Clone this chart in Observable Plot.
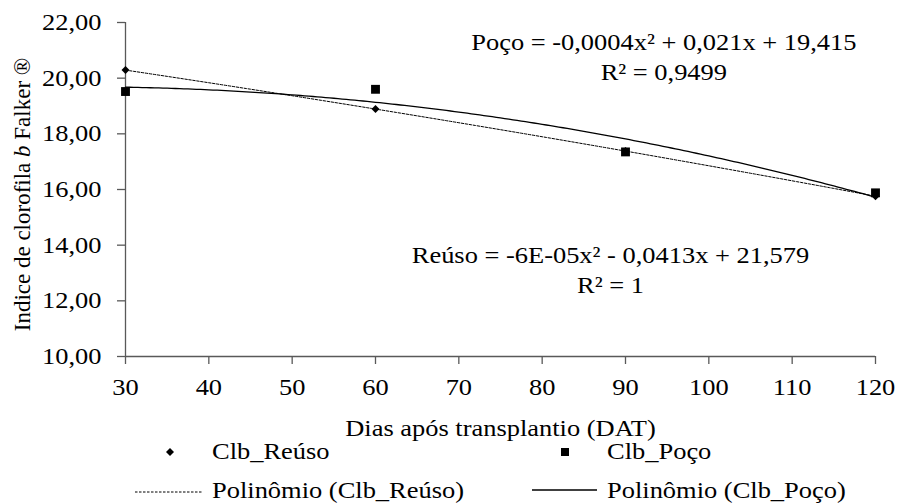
<!DOCTYPE html>
<html><head><meta charset="utf-8">
<script src="https://cdn.jsdelivr.net/npm/d3@7"></script>
<script src="https://cdn.jsdelivr.net/npm/@observablehq/plot@0.6"></script>
<style>
body{margin:0;background:#fff;}
#wrap{position:relative;width:900px;height:504px;font-family:"Liberation Serif","Times New Roman",serif;color:#000;overflow:hidden;}
#wrap svg.plot{position:absolute;left:0;top:0;}
#wrap svg text{font-family:"Liberation Serif","Times New Roman",serif;}
.lg{position:absolute;font-size:23px;line-height:23px;white-space:nowrap;transform:scaleX(1.15);transform-origin:0 0;}
.sym{position:absolute;line-height:0;}
.sym svg{display:block;}
</style></head><body><div id="wrap"></div>
<script>
// ---- data ----
const days = [30, 60, 90, 120];
const reuso = [20.29, 18.89, 17.38, 15.76];
const poco = [19.52, 19.60, 17.35, 15.88];
const xTicks = [30, 40, 50, 60, 70, 80, 90, 100, 110, 120];
const yTicks = [10, 12, 14, 16, 18, 20, 22];
const seriesNames = ["Clb_Reúso", "Clb_Poço"];
const trendNames = ["Polinômio (Clb_Reúso)", "Polinômio (Clb_Poço)"];
const eqTexts = ["Poço = -0,0004x² + 0,021x + 19,415\nR² = 0,9499", "Reúso = -6E-05x² - 0,0413x + 21,579\nR² = 1"];
const eqX = [94.6, 88.2];
const eqY = [21.8, 14.15];
const xLabel = "Dias após transplantio (DAT)";
const yLabel = "Indice de clorofila b Falker ®";

// ---- quadratic least-squares trendline (as Excel's polynomial trendline) ----
function quadFit(xs, ys) {
  const n = xs.length;
  let s = [0,0,0,0,0], t = [0,0,0];
  for (let i = 0; i < n; i++) {
    const x = xs[i], y = ys[i];
    for (let k = 0; k < 5; k++) s[k] += Math.pow(x, k);
    for (let k = 0; k < 3; k++) t[k] += y * Math.pow(x, k);
  }
  const M = [[s[0], s[1], s[2], t[0]], [s[1], s[2], s[3], t[1]], [s[2], s[3], s[4], t[2]]];
  for (let i = 0; i < 3; i++) {
    let p = i;
    for (let r = i + 1; r < 3; r++) if (Math.abs(M[r][i]) > Math.abs(M[p][i])) p = r;
    [M[i], M[p]] = [M[p], M[i]];
    for (let r = 0; r < 3; r++) if (r !== i) {
      const f = M[r][i] / M[i][i];
      for (let c = i; c < 4; c++) M[r][c] -= f * M[i][c];
    }
  }
  const c = M[0][3] / M[0][0], b = M[1][3] / M[1][1], a = M[2][3] / M[2][2];
  return x => a * x * x + b * x + c;
}
const fR = quadFit(days, reuso), fP = quadFit(days, poco);
const xs = d3.range(30, 120.001, 0.5);
const curveR = xs.map(x => ({x, y: fR(x)}));
const curveP = xs.map(x => ({x, y: fP(x)}));
const ptsR = days.map((d, i) => ({x: d, y: reuso[i]}));
const ptsP = days.map((d, i) => ({x: d, y: poco[i]}));
const eqs = eqTexts.map((t, i) => ({t, x: eqX[i], y: eqY[i]}));

const axisColor = "#595959";
const chart = Plot.plot({
  width: 900, height: 440,
  marginLeft: 125, marginRight: 25, marginTop: 22, marginBottom: 84,
  style: {fontFamily: "Liberation Serif, Times New Roman, serif", fontSize: "23px", color: "#000", background: "#fff", overflow: "visible"},
  x: {domain: [30, 120]},
  y: {domain: [10, 22]},
  marks: [
    Plot.ruleY([10], {stroke: axisColor, strokeWidth: 1.3}),
    Plot.ruleX([30], {stroke: axisColor, strokeWidth: 1.3}),
    Plot.axisX({ticks: xTicks, tickSize: 8, tickPadding: 14, stroke: axisColor, strokeWidth: 1.3, fill: "#000",
      label: xLabel, labelArrow: "none", labelAnchor: "center", labelOffset: 79}),
    Plot.axisY({ticks: yTicks, tickSize: 8, tickPadding: 16, stroke: axisColor, strokeWidth: 1.3, fill: "#000",
      tickFormat: d => d.toFixed(2).replace(".", ","), label: yLabel, labelArrow: "none", labelAnchor: "center", labelOffset: 112}),
    Plot.line(curveR, {x: "x", y: "y", stroke: "#000", strokeWidth: 1, strokeDasharray: "2.5,1.5"}),
    Plot.line(curveP, {x: "x", y: "y", stroke: "#000", strokeWidth: 1.3}),
    Plot.dot(ptsR, {x: "x", y: "y", symbol: "diamond2", r: 3.6, fill: "#000", stroke: null}),
    Plot.dot(ptsP, {x: "x", y: "y", symbol: "square", r: 5, fill: "#000", stroke: null}),
    Plot.text(eqs, {x: "x", y: "y", text: "t", textAnchor: "middle", lineAnchor: "top", lineHeight: 1.33, fill: "#000", fontSize: 23})
  ]
});
chart.classList.add("plot");
const wrap = document.getElementById("wrap");
wrap.appendChild(chart);

// post-process texts: clean labels, italic "b", horizontal widening like the reference
d3.select(chart).selectAll("text").each(function() {
  const el = d3.select(this);
  const content = this.textContent;
  let tr = this.getAttribute("transform");
  if (content.includes("Falker")) {
    el.selectAll("*").remove();
    el.text(null);
    el.append("tspan").text("Indice de clorofila ");
    el.append("tspan").attr("font-style", "italic").text("b");
    el.append("tspan").text(" Falker ®");
    if (tr) this.setAttribute("transform", "translate(0,5) " + tr);
    return;
  } else if (content.includes("Dias")) {
    el.text(xLabel);
  }
  if (tr && !tr.includes("rotate")) this.setAttribute("transform", tr + " scale(1.15,1)");
});

// ---- legend below the plot area ----
function addText(txt, left, top) {
  const s = document.createElement("div");
  s.className = "lg"; s.textContent = txt;
  s.style.left = left + "px"; s.style.top = top + "px";
  wrap.appendChild(s);
}
function addSym(html, left, top, w, h) {
  const d = document.createElement("div");
  d.className = "sym";
  d.style.left = left + "px"; d.style.top = top + "px";
  d.innerHTML = `<svg width="${w}" height="${h}">${html}</svg>`;
  wrap.appendChild(d);
}
addSym('<path d="M4,0L8,4L4,8L0,4Z" fill="#000"/>', 166, 448, 8, 8);
addText(seriesNames[0], 212, 440);
addSym('<rect x="0" y="0" width="8" height="8" fill="#000"/>', 561, 448, 8, 8);
addText(seriesNames[1], 607, 440);
addSym('<line x1="0" y1="2" x2="67" y2="2" stroke="#000" stroke-width="1" stroke-dasharray="2.5,1.5"/>', 135, 489.5, 67, 4);
addText(trendNames[0], 212, 479);
addSym('<line x1="0" y1="2" x2="65" y2="2" stroke="#000" stroke-width="1.3"/>', 532, 488, 65, 4);
addText(trendNames[1], 607, 479);
</script>
</body></html>
